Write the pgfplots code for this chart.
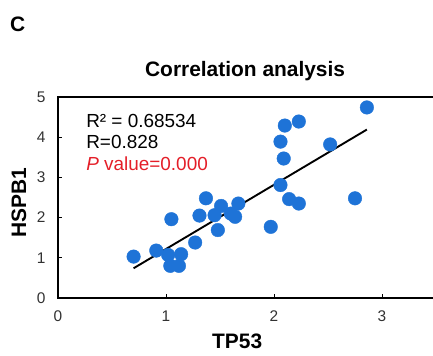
\documentclass[border=0pt]{standalone}
\usepackage{pgfplots}
\pgfplotsset{compat=1.18}
\usepackage{fontspec}
\setmainfont{Liberation Sans}
\usetikzlibrary{shadows}
\definecolor{ptblue}{RGB}{30,115,215}
\definecolor{pred}{RGB}{228,30,40}
\definecolor{tkgray}{RGB}{50,50,50}
\begin{document}
\begin{tikzpicture}
\begin{axis}[
  scale only axis,
  width=378bp, height=201bp,
  xmin=0, xmax=3.5, ymin=0, ymax=5,
  xtick={0,1,2,3}, ytick={0,1,2,3,4,5},
  tick align=inside,
  xtick pos=bottom, ytick pos=left,
  major tick length=4bp,
  axis line style={line width=1.1pt},
  every tick/.style={black, line width=0.9pt},
  /pgf/number format/assume math mode=true,
  tick label style={font=\fontsize{15.5}{15.5}\selectfont, text=tkgray},
  xticklabel style={yshift=-9bp},
  yticklabel style={xshift=-9bp},
  title={\textbf{Correlation analysis}},
  title style={font=\fontsize{21}{21}\selectfont, at={(rel axis cs:0.495,1)}, anchor=base, yshift=15bp},
  xlabel={\textbf{TP53}},
  xlabel style={font=\fontsize{21}{21}\selectfont, at={(rel axis cs:0.474,0)}, anchor=base, yshift=-50bp},
  ylabel={\textbf{HSPB1}},
  ylabel style={font=\fontsize{21}{21}\selectfont, at={([xshift=-39bp]rel axis cs:0,0.473)}, anchor=center},
  clip=false,
]
\addplot[only marks, mark=*, mark size=6.8bp,
  mark options={fill=ptblue, draw=ptblue, drop shadow={opacity=0.35, shadow xshift=0.8bp, shadow yshift=-1bp}}]
coordinates {
(0.70,1.03) (0.91,1.18) (1.02,1.07) (1.14,1.09) (1.04,0.80) (1.12,0.80)
(1.05,1.96) (1.27,1.38) (1.31,2.05) (1.37,2.48) (1.45,2.06) (1.51,2.29)
(1.48,1.69) (1.67,2.35) (1.64,2.02) (1.60,2.10)
(2.06,2.81) (1.97,1.77) (2.14,2.46) (2.23,2.35) (2.06,3.89) (2.09,3.47)
(2.10,4.29) (2.23,4.39) (2.52,3.82) (2.75,2.48) (2.86,4.74)
};
\addplot[black, line width=1.9pt, no marks] coordinates {(0.70,0.74) (2.86,4.19)};
\node[anchor=base west, inner sep=0pt, font=\fontsize{19}{19}\selectfont, text=black] at (axis cs:0.26,4.25) {R² = 0.68534};
\node[anchor=base west, inner sep=0pt, font=\fontsize{19}{19}\selectfont, text=black] at (axis cs:0.26,3.73) {R=0.828};
\node[anchor=base west, inner sep=0pt, font=\fontsize{19}{19}\selectfont, text=pred] at (axis cs:0.26,3.18) {\textit{P} value=0.000};
\node[anchor=base west, inner sep=0pt, font=\bfseries\fontsize{21}{21}\selectfont] at ([xshift=-48bp,yshift=65bp]rel axis cs:0,1) {C};
\end{axis}
\pgfresetboundingbox
\path[use as bounding box] ([xshift=-58bp,yshift=-58bp]current axis.south west) rectangle ([xshift=-3bp,yshift=97bp]current axis.north east);
\end{tikzpicture}
\end{document}
